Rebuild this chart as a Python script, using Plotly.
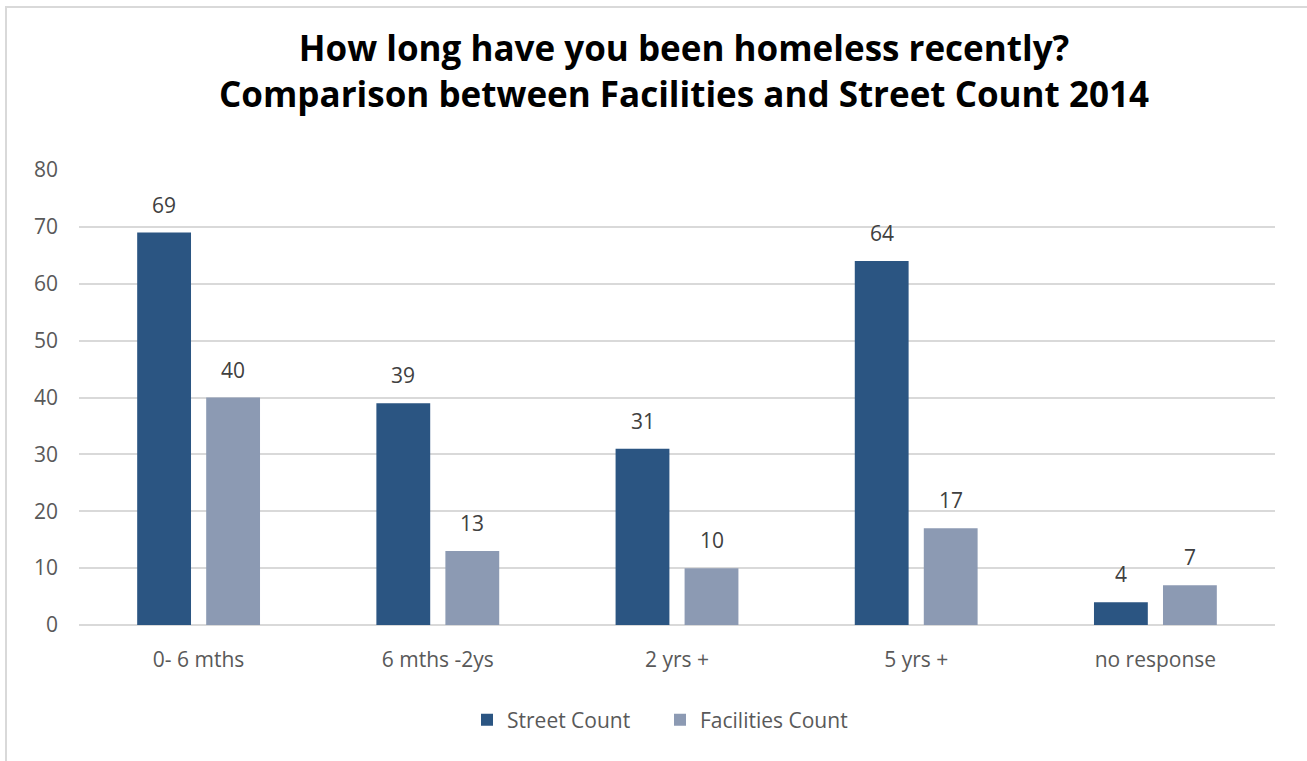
import plotly.graph_objects as go

categories = ["0- 6 mths", "6 mths -2ys", "2 yrs +", "5 yrs +", "no response"]
street_count = [69, 39, 31, 64, 4]
facilities_count = [40, 13, 10, 17, 7]
y_ticks = [0, 10, 20, 30, 40, 50, 60, 70, 80]

FONT = "Open Sans, Lato, sans-serif"
W, H = 1307, 761
ML, MR, MT, MB = 79, 32, 170, 136
pw = W - ML - MR
ph = H - MT - MB

STREET_COLOR = "#2B5582"
FAC_COLOR = "#8C9AB3"


def px_x(p):
    return (p - ML) / pw


def px_y(p):
    return (H - MB - p) / ph


fig = go.Figure()
fig.add_trace(go.Bar(
    name="Street Count", x=categories, y=street_count,
    marker=dict(color=STREET_COLOR, line=dict(width=0)),
    offsetgroup="s",
))
fig.add_trace(go.Bar(
    name="Facilities Count", x=categories, y=facilities_count,
    marker=dict(color=FAC_COLOR, line=dict(width=0)),
    offsetgroup="f",
))

# value labels above each bar
bar_shift = 34.5  # horizontal offset of each bar centre from the category centre (px)
annotations = []
for i, cat in enumerate(categories):
    for vals, dx in ((street_count, -bar_shift), (facilities_count, bar_shift)):
        annotations.append(dict(
            x=cat, y=vals[i], xref="x", yref="y",
            text=str(vals[i]), showarrow=False,
            xshift=dx, yshift=28, yanchor="middle",
            font=dict(family=FONT, size=21, color="#404040"),
        ))

fig.update_layout(
    width=W, height=H,
    margin=dict(l=ML, r=MR, t=MT, b=MB, pad=0),
    paper_bgcolor="white", plot_bgcolor="white",
    barmode="group", bargap=0.423, bargroupgap=0.22,
    title=dict(
        text="How long have you been homeless recently?<br>Comparison between Facilities and Street Count 2014",
        xref="container", x=684 / W, xanchor="center",
        y=1 - 61 / H, yanchor="middle",
        font=dict(family=FONT, size=35, color="#000000", weight="bold"),
    ),
    font=dict(family=FONT, size=21, color="#595959"),
    showlegend=True,
    legend=dict(
        orientation="h", x=px_x(660), xanchor="center",
        y=px_y(720), yanchor="middle",
        font=dict(size=21, color="#595959"),
        itemwidth=30, traceorder="normal",
        entrywidth=148, entrywidthmode="pixels",
    ),
    xaxis=dict(
        showgrid=False, showline=False, ticks="",
        tickfont=dict(size=21, color="#595959"),
        ticklabelstandoff=20,
    ),
    yaxis=dict(
        range=[0, 80], tickvals=y_ticks,
        showgrid=True, gridcolor="#D9D9D9", gridwidth=1.5,
        zeroline=True, zerolinecolor="#D9D9D9", zerolinewidth=2,
        showline=False, ticks="",
        tickfont=dict(size=21, color="#595959"),
        ticklabelstandoff=20,
    ),
    annotations=annotations,
    shapes=[dict(
        type="rect", xref="paper", yref="paper",
        x0=px_x(6), x1=px_x(1340), y0=px_y(800), y1=px_y(7),
        line=dict(color="#D9D9D9", width=2), fillcolor="rgba(0,0,0,0)",
        layer="below",
    )],
)

fig.write_html("out.html")
